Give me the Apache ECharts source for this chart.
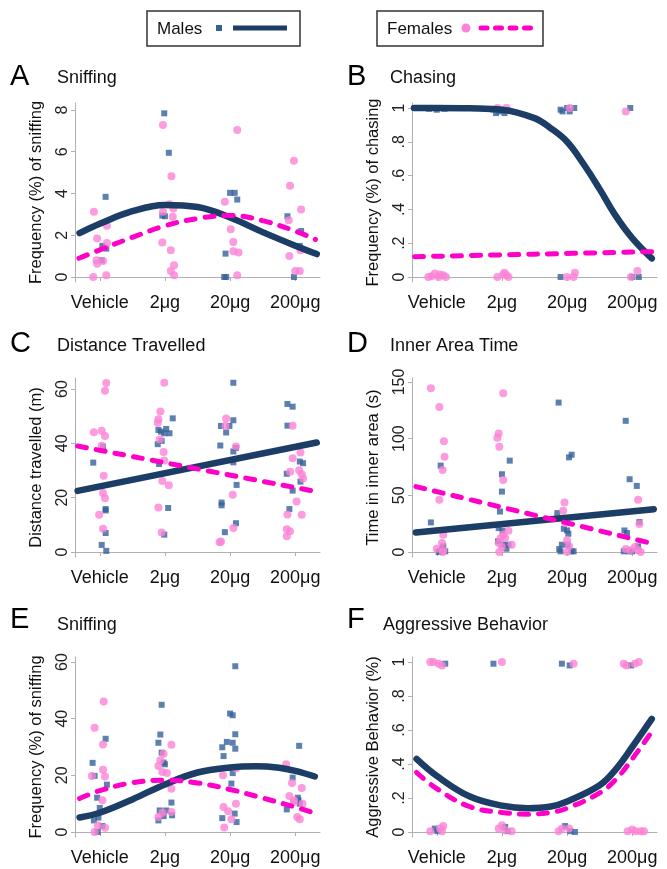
<!DOCTYPE html>
<html>
<head>
<meta charset="utf-8">
<script src="https://cdn.jsdelivr.net/npm/echarts@6/dist/echarts.min.js"></script>
<style>
  html, body { margin: 0; padding: 0; background: #fff; }
  #main { width: 667px; height: 869px; }
</style>
</head>
<body>
<div id="main"></div>
<script>
// dose groups on the x axis
var xLabels = ['Vehicle', '2μg', '20μg', '200μg'];
var xTicks = [1, 2, 3, 4];

// A - sniffing (males vs females)
var aMalePts = [[1.09,3.84],[1.04,1.49],[1.10,1.36],[1.03,0.80],
  [1.99,7.84],[2.06,5.95],[1.96,2.94],[2.00,2.91],
  [3.00,4.03],[3.07,4.03],[3.11,3.71],[2.93,1.12],[2.91,0],[2.94,0],
  [3.88,2.91],[4.09,2.20],[4.07,1.49],[3.98,0]];
var aFemalePts = [[0.91,3.12],[0.96,1.84],[1.11,2.45],[1.11,1.63],[0.95,0.80],[0.96,0.64],[1.05,0.77],[0.90,0],[1.10,0.08],
  [1.97,7.28],[2.10,4.83],[2.07,3.49],[2.13,3.28],[1.97,3.12],[2.12,2.88],[1.96,1.65],[2.09,1.28],[2.14,0.56],[2.09,0.29],[2.14,0.08],
  [3.11,7.04],[2.92,3.60],[3.01,2.29],[3.05,1.68],[3.05,1.23],[3.13,1.17],[3.11,0.08],
  [3.98,5.57],[3.92,4.37],[4.09,3.23],[3.90,2.72],[3.91,1.01],[4.00,0.29],[4.07,0.29],[4.08,1.28]];
var aMaleFit = [[0.69,2.1],[1.0,2.55],[1.5,3.15],[2.0,3.45],[2.5,3.35],[3.0,2.85],[3.5,2.15],[4.0,1.5],[4.33,1.1]];
var aFemaleFit = [[0.68,0.9],[1.0,1.3],[1.5,1.9],[2.0,2.45],[2.5,2.8],[3.0,2.95],[3.5,2.7],[4.0,2.2],[4.31,1.8]];

// B - chasing
var bMalePts = [[0.72,1],[0.80,1],[0.88,0.995],[0.95,1],[1.00,0.99],[1.06,1],[1.12,0.995],
  [1.87,0.99],[1.91,0.97],[1.96,0.98],[1.99,0.99],[2.04,0.97],
  [2.90,0.99],[2.93,0.98],[3.00,1],[3.04,0.98],[3.11,1],[3.97,1],
  [2.90,0],[4.00,0],[4.10,0]];
var bFemalePts = [[0.87,0],[0.92,0.005],[0.97,0.02],[1.03,0],[1.05,0.015],[1.10,0.01],[1.14,0],
  [1.93,0],[2.04,0.025],[2.07,0.01],[2.10,0],[2.02,0.015],
  [3.00,0],[3.10,0],[3.12,0.025],[3.98,0],[4.08,0.035],
  [1.93,1],[2.07,1],[3.04,1],[3.90,0.98]];
var bMaleFit = [[0.65,1],[1.0,1],[1.5,0.998],[2.0,0.99],[2.5,0.94],[2.75,0.88],[3.0,0.80],[3.25,0.67],[3.5,0.52],[3.75,0.36],[4.0,0.23],[4.3,0.11]];
var bFemaleFit = [[0.66,0.12],[2.5,0.135],[4.32,0.15]];

// C - distance travelled
var cMalePts = [[0.90,32.9],[1.05,38.8],[1.09,15.8],[1.09,15.3],[1.09,7.0],[1.03,2.6],[1.10,0.4],
  [1.89,39.7],[1.90,44.9],[1.95,40.9],[1.94,44.3],[1.99,43.7],[2.02,45.3],[2.07,43.7],[2.12,49.2],[1.91,32.4],[2.05,16.2],[1.99,6.4],
  [3.05,62.3],[2.85,39.2],[2.86,46.4],[2.99,46.4],[2.94,44.0],[3.05,48.5],[3.09,38.3],[3.05,37.0],[3.05,33.0],[3.10,24.7],[2.87,18.2],[2.87,17.2],[2.92,7.3],[3.09,10.6],
  [3.88,54.5],[3.96,53.5],[3.88,46.5],[3.87,28.8],[4.07,33.3],[4.12,32.7],[4.08,25.9],[3.96,22.6],[3.91,15.8]];
var cFemalePts = [[1.10,62.2],[1.08,59.4],[0.91,44.1],[1.03,44.6],[1.08,42.7],[1.03,39.1],[1.06,28.1],[1.05,21.7],[1.08,19.8],[0.99,13.7],[1.05,8.6],
  [1.99,62.3],[1.93,51.7],[1.90,48.9],[1.89,47.5],[1.92,41.4],[1.98,36.8],[1.99,33.7],[1.96,26.1],[2.06,24.6],[1.90,16.4],[1.95,7.2],
  [2.94,49.1],[2.93,46.4],[3.09,38.8],[3.04,21.1],[3.05,8.8],[2.86,3.9],[2.84,3.6],
  [3.96,46.5],[3.96,34.5],[4.08,36.6],[3.92,29.5],[4.06,30.1],[4.10,28.6],[4.12,27.1],[4.02,18.6],[4.10,13.7],[3.88,13.8],[3.87,8.4],[3.92,7.6],[3.87,5.8]];
var cMaleFit = [[0.66,22.5],[4.33,40.3]];
var cFemaleFit = [[0.66,39.0],[4.31,22.3]];

// D - inner area time
var dMalePts = [[1.06,76.2],[0.91,26.1],[1.10,5.0],[1.08,2.6],[1.05,0.6],[1.13,0.6],[1.03,0],
  [2.12,80.6],[2.00,68.6],[2.00,53.3],[1.97,35.7],[1.95,21.1],[2.01,18.8],[1.94,9.4],[2.02,6.4],[2.10,6.4],[2.07,2.9],
  [2.87,131.8],[3.07,85.8],[3.03,83.5],[2.85,34.3],[2.95,20.5],[3.00,19.0],[3.02,16.1],[2.92,6.4],[3.01,6.4],[2.88,2.6],[3.07,0.6],[3.10,0.6],[2.90,0.6],
  [3.90,115.7],[3.96,64.2],[4.07,58.3],[4.11,26.4],[3.88,19.0],[3.92,16.7],[4.09,5.0],[3.87,0.6],[3.95,0.6],[4.00,0.6]];
var dFemalePts = [[0.91,144.4],[1.04,128.0],[1.11,97.6],[1.12,84.1],[1.09,72.4],[1.04,46.0],[1.10,15.2],[1.08,7.9],[1.00,2.9],[1.10,1.5],[1.09,0],
  [2.02,140.0],[1.95,104.6],[1.93,100.8],[1.96,92.9],[2.02,63.6],[2.10,18.8],[2.02,15.2],[1.98,12.3],[2.05,12.3],[1.95,7.9],[2.15,6.4],[2.00,4.4],[1.96,0],
  [2.96,43.7],[2.94,36.3],[2.97,25.5],[3.00,10.3],[3.03,5.0],[3.00,0],
  [4.09,46.0],[4.11,24.6],[3.90,2.6],[3.97,1.5],[4.04,4.4],[4.09,1.5],[4.13,0]];
var dMaleFit = [[0.68,17.3],[4.33,37.8]];
var dFemaleFit = [[0.68,57.7],[4.28,7.9]];

// E - sniffing (second cohort)
var eMalePts = [[0.89,24.4],[0.92,19.8],[1.09,32.9],[1.11,16.7],[0.96,12.1],[1.00,8.5],[0.98,5.1],[0.91,4.1],[1.04,2.1],[0.97,0],
  [1.95,44.9],[1.93,34.4],[1.90,31.5],[1.95,28.0],[1.98,24.5],[2.00,23.9],[2.10,10.4],[1.92,7.6],[2.02,7.6],[2.11,5.9],[1.90,4.1],[1.98,5.6],
  [3.08,58.5],[3.00,41.8],[3.04,41.2],[3.08,34.5],[2.88,29.9],[2.90,26.8],[3.04,31.5],[3.08,29.4],[2.95,31.8],[3.04,20.8],[3.02,17.1],[2.88,4.9],[3.07,6.5],[3.10,3.5],
  [4.06,30.4],[3.87,8.0],[3.96,19.2],[4.04,12.1],[4.05,11.2],[4.07,10.0]];
var eFemalePts = [[1.06,46.1],[0.92,36.8],[1.05,30.9],[1.05,22.0],[1.08,19.6],[0.88,19.8],[1.04,11.2],[0.97,2.4],[1.08,1.5],[0.92,0],
  [2.10,30.8],[1.98,27.6],[1.90,23.3],[1.93,25.3],[1.96,21.2],[2.03,20.8],[2.10,15.3],[1.90,5.3],[1.96,6.8],[2.10,7.1],
  [2.89,20.0],[3.09,22.4],[3.09,10.0],[2.90,8.8],[2.97,7.3],[3.02,4.5],[2.91,1.6],
  [3.86,23.9],[3.95,17.3],[3.91,12.7],[3.98,11.2],[4.10,15.5],[4.11,10.0],[4.03,5.3],[4.07,4.5],[3.98,10.6]];
var eMaleFit = [[0.69,5.1],[1.0,6.8],[1.5,11.5],[2.0,16.8],[2.5,21.0],[3.0,22.8],[3.4,23.2],[3.75,22.7],[4.0,21.6],[4.3,19.6]];
var eFemaleFit = [[0.69,11.8],[1.0,14.6],[1.5,17.4],[2.0,18.3],[2.5,17.3],[3.0,15.0],[3.5,12.0],[4.0,8.8],[4.25,7.0]];

// F - aggressive behavior
var fMalePts = [[1.13,0.99],[1.87,0.99],[2.92,0.99],[3.04,0.98],[3.98,0.98],
  [0.97,0.02],[1.01,0.005],[2.05,0.03],[2.09,0.005],[2.97,0.035],[3.05,0.005],[3.12,0]];
var fFemalePts = [[0.90,1],[0.95,1],[1.03,0.99],[1.08,0.98],[2.00,1],[3.10,0.99],[3.87,0.99],[3.91,0.98],[4.04,0.99],[4.10,1],
  [0.90,0.005],[1.05,0.02],[1.10,0.035],[1.08,0.005],[1.95,0.02],[2.00,0.04],[2.05,0.01],[2.15,0.005],
  [2.87,0.005],[2.92,0.02],[3.03,0.02],[3.93,0.005],[4.00,0.015],[4.05,0.005],[4.13,0.005],[4.18,0.005]];
var fMaleFit = [[0.69,0.43],[1.0,0.33],[1.5,0.21],[2.0,0.155],[2.4,0.14],[2.75,0.15],[3.0,0.18],[3.5,0.275],[3.75,0.37],[4.0,0.5],[4.3,0.665]];
var fFemaleFit = [[0.69,0.35],[1.0,0.255],[1.5,0.15],[2.0,0.115],[2.4,0.105],[2.75,0.115],[3.0,0.14],[3.5,0.23],[3.75,0.31],[4.0,0.43],[4.3,0.59]];

// y tick labels
var aTicks = [0, 2, 4, 6, 8];
var bTicks = [0, 0.2, 0.4, 0.6, 0.8, 1];
var cTicks = [0, 20, 40, 60];
var dTicks = [0, 50, 100, 150];
var eTicks = [0, 20, 40, 60];
var fTicks = [0, 0.2, 0.4, 0.6, 0.8, 1];

var MALE_PT = '#34609a', MALE_LINE = '#1b3d66';
var FEM_PT = '#fb82d6', FEM_LINE = '#ff00c8';
var FONT = '"Liberation Sans", Arial, sans-serif';

var panels = [
  {letter:'A', name:'Sniffing', yName:'Frequency (%) of sniffing', left:75, top:103, h:179, ymin:-0.24, ymax:8.335, ticks:aTicks,
    m:aMalePts, f:aFemalePts, mf:aMaleFit, ff:aFemaleFit, lx:10, ly:62, sx:57, sy:69},
  {letter:'B', name:'Chasing', yName:'Frequency (%) of chasing', left:412, top:103, h:179, ymin:-0.0296, ymax:1.0296, ticks:bTicks,
    m:bMalePts, f:bFemalePts, mf:bMaleFit, ff:bFemaleFit, lx:347, ly:62, sx:390, sy:69},
  {letter:'C', name:'Distance Travelled', yName:'Distance travelled (m)', left:75, top:378, h:179, ymin:-1.84, ymax:64.05, ticks:cTicks,
    m:cMalePts, f:cFemalePts, mf:cMaleFit, ff:cFemaleFit, lx:10, ly:329, sx:57, sy:337},
  {letter:'D', name:'Inner Area Time', yName:'Time in inner area (s)', left:412, top:378, h:179, ymin:-4.41, ymax:153.5, ticks:dTicks,
    m:dMalePts, f:dFemalePts, mf:dMaleFit, ff:dFemaleFit, lx:347, ly:329, sx:390, sy:337},
  {letter:'E', name:'Sniffing', yName:'Frequency (%) of sniffing', left:75, top:657, h:180, ymin:-1.76, ymax:61.76, ticks:eTicks,
    m:eMalePts, f:eFemalePts, mf:eMaleFit, ff:eFemaleFit, lx:10, ly:605, sx:57, sy:616},
  {letter:'F', name:'Aggressive Behavior', yName:'Aggressive Behavior (%)', left:412, top:657, h:180, ymin:-0.0294, ymax:1.0294, ticks:fTicks,
    m:fMalePts, f:fFemalePts, mf:fMaleFit, ff:fFemaleFit, lx:347, ly:605, sx:383, sy:616}
];

function fmtY(v) {
  if (v === 0) return '0';
  if (v === 1) return '1';
  var s = String(Math.round(v * 1000) / 1000);
  return s.indexOf('0.') === 0 ? s.slice(1) : s;
}

var grids = [], xAxes = [], yAxes = [], series = [], titles = [];
panels.forEach(function (p, i) {
  grids.push({left: p.left, top: p.top, width: 245, height: p.h, containLabel: false, outerBoundsMode: 'none'});
  xAxes.push({
    type: 'value', gridIndex: i, min: 0.62, max: 4.38,
    axisLine: {show: true, lineStyle: {color: '#b0b0b0', width: 1}},
    axisTick: {show: true, length: 4, customValues: xTicks, lineStyle: {color: '#b0b0b0'}},
    axisLabel: {customValues: xTicks, margin: 12, fontSize: 18, color: '#111', fontFamily: FONT,
      formatter: function (v) { return xLabels[Math.round(v) - 1]; }},
    splitLine: {show: false}
  });
  yAxes.push({
    type: 'value', gridIndex: i, min: p.ymin, max: p.ymax,
    name: p.yName, nameLocation: 'middle', nameGap: 30, nameRotate: 90,
    nameTextStyle: {fontSize: 16.5, color: '#111', fontFamily: FONT},
    axisLine: {show: true, lineStyle: {color: '#b0b0b0', width: 1}},
    axisTick: {show: true, length: 4, customValues: p.ticks, lineStyle: {color: '#b0b0b0'}},
    axisLabel: {customValues: p.ticks, rotate: 90, margin: 4, fontSize: 16, color: '#222', fontFamily: FONT, formatter: fmtY},
    splitLine: {show: false}
  });
  series.push({type: 'scatter', xAxisIndex: i, yAxisIndex: i, data: p.m, symbol: 'rect', symbolSize: 6,
    itemStyle: {color: MALE_PT}, silent: true});
  series.push({type: 'scatter', xAxisIndex: i, yAxisIndex: i, data: p.f, symbol: 'circle', symbolSize: 8,
    itemStyle: {color: FEM_PT}, silent: true});
  series.push({type: 'line', xAxisIndex: i, yAxisIndex: i, data: p.mf, smooth: 0.4, showSymbol: false,
    lineStyle: {color: MALE_LINE, width: 6.5, cap: 'round'}, silent: true});
  series.push({type: 'line', xAxisIndex: i, yAxisIndex: i, data: p.ff, smooth: 0.4, showSymbol: false,
    lineStyle: {color: FEM_LINE, width: 5, type: [9, 10], cap: 'round'}, silent: true});
  titles.push({text: p.letter, left: p.lx, top: p.ly, padding: 0,
    textStyle: {fontSize: 29, fontWeight: 'normal', color: '#000', fontFamily: FONT}});
  titles.push({text: p.name, left: p.sx, top: p.sy, padding: 0,
    textStyle: {fontSize: 18, fontWeight: 'normal', color: '#111', fontFamily: FONT}});
});

var chart = echarts.init(document.getElementById('main'));
chart.setOption({
  backgroundColor: '#fff',
  animation: false,
  title: titles,
  grid: grids,
  xAxis: xAxes,
  yAxis: yAxes,
  series: series,
  graphic: [
    {type: 'rect', shape: {x: 147, y: 11, width: 153, height: 35}, style: {fill: '#fff', stroke: '#333', lineWidth: 1.5}},
    {type: 'text', x: 157, y: 29, style: {text: 'Males', fontSize: 17, fontFamily: FONT, fill: '#111', verticalAlign: 'middle'}},
    {type: 'rect', shape: {x: 216, y: 25, width: 6, height: 6}, style: {fill: MALE_PT}},
    {type: 'line', shape: {x1: 233, y1: 28, x2: 287, y2: 28}, style: {stroke: MALE_LINE, lineWidth: 5}},
    {type: 'rect', shape: {x: 377, y: 11, width: 166, height: 35}, style: {fill: '#fff', stroke: '#333', lineWidth: 1.5}},
    {type: 'text', x: 387, y: 29, style: {text: 'Females', fontSize: 17, fontFamily: FONT, fill: '#111', verticalAlign: 'middle'}},
    {type: 'circle', shape: {cx: 466, cy: 28, r: 4.5}, style: {fill: FEM_PT}},
    {type: 'line', shape: {x1: 481, y1: 28, x2: 531, y2: 28}, style: {stroke: FEM_LINE, lineWidth: 5, lineDash: [6, 8.5], lineCap: 'round'}}
  ]
});
</script>
</body>
</html>
